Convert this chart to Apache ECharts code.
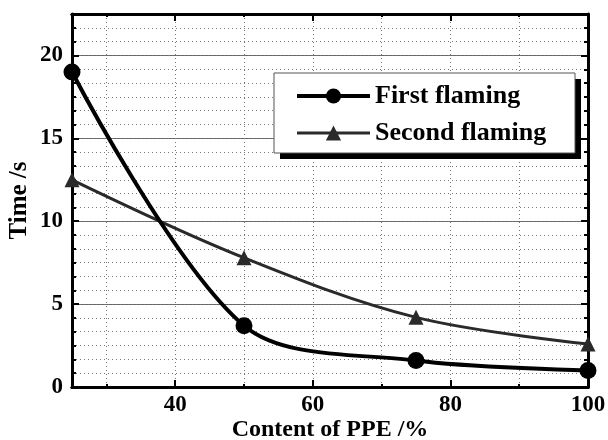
<!DOCTYPE html>
<html>
<head>
<meta charset="utf-8">
<script src="https://cdn.jsdelivr.net/npm/echarts@6/dist/echarts.min.js"></script>
<style>
  html, body { margin: 0; padding: 0; background: #fff; }
  #main { width: 608px; height: 440px; }
</style>
</head>
<body>
<div id="main"></div>
<script>
// PPE content (%) and times (s)
const ppeContent = [25, 50, 75, 100];
const firstFlaming = [19.0, 3.7, 1.6, 1.0];
const secondFlaming = [12.5, 7.8, 4.2, 2.6];

// axis ticks
const xMajorTicks = [40, 60, 80, 100];
const xMinorTicks = [30, 50, 70, 90];
const yMajorTicks = [0, 5, 10, 15, 20];

const font = '"Liberation Serif", "DejaVu Serif", serif';
const black = '#000';

function pairs(xs, ys) {
    return xs.map(function (x, i) { return [x, ys[i]]; });
}

const myChart = echarts.init(document.getElementById('main'));

function xAxisBase(pos, ticks, len, showLabel, dotted) {
    return {
        type: 'value', position: pos, min: 25, max: 100,
        axisLine: { show: true, onZero: false, lineStyle: { color: black, width: 3 } },
        axisTick: { show: true, inside: true, length: len, customValues: ticks,
            lineStyle: { color: black, width: 2 } },
        axisLabel: { show: showLabel, customValues: ticks, margin: 7,
            fontFamily: font, fontWeight: 'bold', fontSize: 23, color: black },
        splitLine: { show: dotted, lineStyle: { color: '#777', width: 1, type: [1, 3] } }
    };
}

const option = {
    animation: false,
    backgroundColor: '#fff',
    grid: { left: 72, top: 14, right: 20, bottom: 53, containLabel: false, outerBoundsMode: 'none' },
    xAxis: [
        Object.assign(xAxisBase('bottom', xMajorTicks, 7, true, true), {
            name: 'Content of PPE /%', nameLocation: 'middle', nameGap: 31, nameMoveOverlap: false,
            nameTextStyle: { fontFamily: font, fontWeight: 'bold', fontSize: 24, color: black }
        }),
        xAxisBase('bottom', xMinorTicks, 3, false, true),
        xAxisBase('top', xMajorTicks, 7, false, false),
        xAxisBase('top', xMinorTicks, 3, false, false)
    ],
    yAxis: [
        {
            type: 'value', position: 'left', min: 0, max: 22.5, interval: 5,
            name: 'Time /s', nameLocation: 'middle', nameGap: 40, nameMoveOverlap: false,
            nameTextStyle: { fontFamily: font, fontWeight: 'bold', fontSize: 25, color: black },
            axisLine: { show: true, onZero: false, lineStyle: { color: black, width: 3 } },
            axisTick: { show: true, inside: true, length: 7, customValues: yMajorTicks,
                lineStyle: { color: black, width: 2 } },
            axisLabel: { customValues: yMajorTicks, margin: 9,
                fontFamily: font, fontWeight: 'bold', fontSize: 23, color: black },
            splitLine: { show: true, lineStyle: { color: '#666', width: 1 } }
        },
        {
            type: 'value', position: 'left', min: 0, max: 22.5, interval: 5 / 6,
            axisLine: { show: false },
            axisTick: { show: true, inside: true, length: 4, lineStyle: { color: black, width: 2 } },
            axisLabel: { show: false },
            splitLine: { show: true, lineStyle: { color: '#777', width: 1, type: [1, 3] } }
        },
        {
            type: 'value', position: 'right', min: 0, max: 22.5, interval: 5,
            axisLine: { show: true, onZero: false, lineStyle: { color: black, width: 3 } },
            axisTick: { show: true, inside: true, length: 7, lineStyle: { color: black, width: 2 } },
            axisLabel: { show: false },
            splitLine: { show: false }
        },
        {
            type: 'value', position: 'right', min: 0, max: 22.5, interval: 5 / 6,
            axisLine: { show: false },
            axisTick: { show: true, inside: true, length: 4, lineStyle: { color: black, width: 2 } },
            axisLabel: { show: false },
            splitLine: { show: false }
        }
    ],
    legend: {
        left: 290, top: 78, orient: 'vertical',
        itemWidth: 73, itemHeight: 19, itemGap: 11,
        textStyle: { fontFamily: font, fontWeight: 'bold', fontSize: 26, color: black },
        data: [
            { name: 'First flaming', lineStyle: { width: 4, color: black } },
            { name: 'Second flaming', lineStyle: { width: 3, color: '#2a2a2a' } }
        ],
        z: 10
    },
    graphic: [
        { type: 'rect', shape: { x: 280, y: 79, width: 301, height: 80 },
          style: { fill: black }, z: 5 },
        { type: 'rect', shape: { x: 274, y: 73, width: 301, height: 80 },
          style: { fill: '#fff', stroke: '#555', lineWidth: 1 }, z: 6 }
    ],
    series: [
        {
            name: 'First flaming', type: 'line', smooth: 0.32,
            data: pairs(ppeContent, firstFlaming),
            symbol: 'circle', symbolSize: 17,
            itemStyle: { color: black },
            lineStyle: { color: black, width: 4 },
            z: 3
        },
        {
            name: 'Second flaming', type: 'line', smooth: 0.35,
            data: pairs(ppeContent, secondFlaming),
            symbol: 'triangle', symbolSize: 15,
            itemStyle: { color: '#2a2a2a' },
            lineStyle: { color: '#2a2a2a', width: 3 },
            z: 2
        }
    ]
};

myChart.setOption(option);
</script>
</body>
</html>
